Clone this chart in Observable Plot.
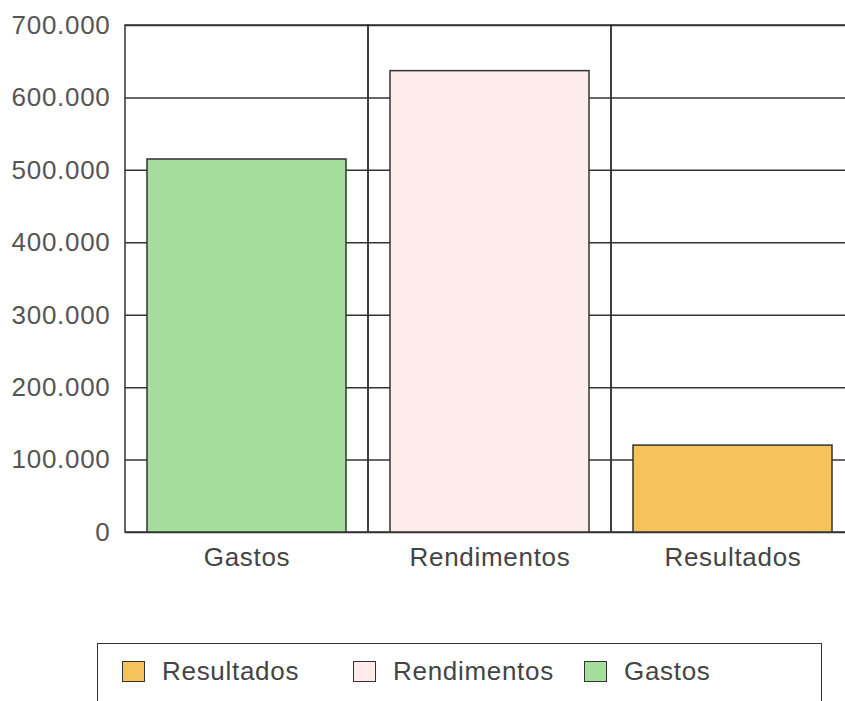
<!DOCTYPE html>
<html>
<head>
<meta charset="utf-8">
<script src="https://cdn.jsdelivr.net/npm/d3@7"></script>
<script src="https://cdn.jsdelivr.net/npm/@observablehq/plot@0.6"></script>
<style>
  html, body { margin: 0; padding: 0; background: #fff; overflow: hidden; }
  body { width: 845px; height: 701px; font-family: "Liberation Sans", Arial, sans-serif; }
  #legend {
    position: relative; margin-left: 97px; margin-top: 53px; width: 725px; height: 70px;
    border: 1.5px solid #333; box-sizing: border-box; display: flex; align-items: flex-start;
    padding-top: 12px; padding-left: 24px; color: #444; font-size: 26px; letter-spacing: 0.7px;
  }
  .item { display: flex; align-items: center; width: 231px; flex: none; }
  .sw { width: 21px; height: 19px; border: 1.5px solid #333; margin-right: 17px; flex: none; }
</style>
</head>
<body>
<div id="chart"></div>
<div id="legend"></div>
<script>
const categories = ["Gastos", "Rendimentos", "Resultados"];
const values = [515000, 637000, 120000];
const colors = ["#a5dd9c", "#fdeceb", "#f6c25c"];
const yTicks = [0, 100000, 200000, 300000, 400000, 500000, 600000, 700000];
const legendOrder = ["Resultados", "Rendimentos", "Gastos"];

const data = categories.map((c, i) => ({category: c, value: values[i]}));
const fmt = d3.formatLocale({decimal: ",", thousands: ".", grouping: [3], currency: ["", ""]}).format(",");

const chart = Plot.plot({
  width: 845,
  height: 590,
  marginLeft: 125,
  marginRight: 0,
  marginTop: 25,
  marginBottom: 58,
  style: {fontFamily: "'Liberation Sans', Arial, sans-serif", fontSize: "26px", color: "#444", background: "#fff", letterSpacing: "0.7px"},
  x: {domain: categories, range: [125, 854], padding: 0, label: null},
  y: {domain: [0, 700000], label: null},
  color: {domain: categories, range: colors},
  marks: [
    Plot.ruleY(yTicks, {stroke: "#333", strokeWidth: 1.5}),
    Plot.barY(categories, {x: d => d, y1: 0, y2: 700000, fill: "none", stroke: "#333", strokeWidth: 1.5}),
    Plot.barY(data, {x: "category", y: "value", fill: "category", stroke: "#333", strokeWidth: 1.5, insetLeft: 22, insetRight: 22}),
    Plot.axisY({ticks: yTicks, tickFormat: fmt, tickSize: 0, tickPadding: 15, fill: "#555", label: null}),
    Plot.axisX({tickSize: 0, tickPadding: 15, fill: "#444", label: null})
  ]
});
document.getElementById("chart").appendChild(chart);

const legend = document.getElementById("legend");
legendOrder.forEach(name => {
  const item = document.createElement("div");
  item.className = "item";
  const sw = document.createElement("div");
  sw.className = "sw";
  sw.style.background = colors[categories.indexOf(name)];
  const t = document.createElement("span");
  t.textContent = name;
  item.appendChild(sw);
  item.appendChild(t);
  legend.appendChild(item);
});
</script>
</body>
</html>
